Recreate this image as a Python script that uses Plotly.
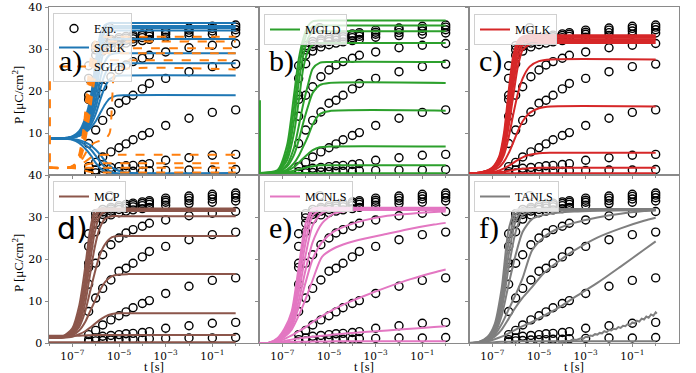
import plotly.graph_objects as go
from plotly.subplots import make_subplots

# ---------------- experimental data (same in every panel) ----------------
T_EXP = [5e-7, 1e-6, 2e-6, 4.5e-6, 1e-5, 2e-5, 4e-5, 1e-4, 2e-4, 1e-3, 1e-2, 1e-1, 1.0]
EXP_1 = [26.0, 30.8, 31.8, 32.3, 32.7, 33.0, 33.3, 33.6, 33.9, 34.5, 35.0, 35.4, 35.7]
EXP_2 = [23.0, 29.8, 31.2, 31.9, 32.3, 32.6, 32.9, 33.2, 33.5, 34.0, 34.5, 34.9, 35.2]
EXP_3 = [19.0, 28.5, 30.6, 31.4, 31.8, 32.1, 32.4, 32.7, 33.0, 33.5, 33.9, 34.3, 34.6]
EXP_4 = [18.0, 26.5, 29.5, 30.5, 31.0, 31.4, 31.7, 32.0, 32.3, 32.8, 33.2, 33.5, 33.8]
EXP_5 = [14.0, 19.0, 21.0, 23.4, 25.0, 26.2, 27.0, 27.8, 28.5, 29.3, 30.3, 30.9, 31.3]
EXP_6 = [7.5, 10.7, 13.0, 15.0, 17.1, 17.8, 19.0, 20.5, 21.8, 23.0, 24.6, 25.8, 26.4]
EXP_7 = [2.0, 3.0, 4.3, 5.5, 6.5, 7.4, 8.4, 9.4, 10.1, 11.8, 13.5, 14.9, 15.5]
EXP_8 = [0.8, 1.2, 1.6, 1.8, 2.0, 2.2, 2.3, 2.5, 2.7, 3.5, 4.1, 4.7, 4.9]
EXP_9 = [0.3, 0.5, 0.6, 0.7, 0.8, 0.8, 0.9, 0.9, 1.0, 1.1, 1.2, 1.2, 1.3]
EXP_CURVES = [EXP_1, EXP_2, EXP_3, EXP_4, EXP_5, EXP_6, EXP_7, EXP_8, EXP_9]
EXP_OUT_T = [4e-6]
EXP_OUT_P = [35.1]

# ---------------- model curves (log10 t knots, P values) ----------------
LT_SGLK = [-8, -7.5, -7.0, -6.7, -6.45, -6.2, -6.0, -5.8, -5.6, -5.4, -5.1, -4.7, 0]
SGLK = [
    [8.7, 8.7, 9.2, 10.5, 13.5, 19, 27, 33.5, 35.7, 36.2, 36.2, 36.2, 36.2],
    [8.7, 8.7, 9.1, 10.2, 12.8, 17.5, 25, 32, 34.8, 35.4, 35.5, 35.5, 35.5],
    [8.7, 8.7, 9.1, 10.0, 12.3, 16.5, 23, 30.5, 34.0, 34.9, 35.0, 35.0, 35.0],
    [8.7, 8.7, 9.0, 9.8, 11.8, 15.5, 21.5, 28.5, 32.8, 34.1, 34.4, 34.4, 34.4],
    [8.7, 8.7, 9.0, 9.7, 11.4, 14.5, 19.5, 26, 30.5, 32.0, 32.4, 32.4, 32.4],
    [8.7, 8.7, 9.0, 9.6, 11.0, 13.5, 17.5, 23, 27, 28.6, 29.0, 29.0, 29.0],
    [8.7, 8.7, 8.9, 9.5, 10.7, 12.8, 16, 20.5, 24, 25.9, 26.5, 26.6, 26.6],
    [8.7, 8.7, 8.9, 9.4, 10.4, 12, 14.5, 18, 21, 22.8, 23.6, 23.7, 23.7],
    [8.7, 8.7, 8.9, 9.3, 10.1, 11.3, 12.8, 14.8, 16.8, 18.2, 18.9, 19.0, 19.0],
    [8.7, 8.7, 8.5, 8.0, 7.2, 6.0, 4.6, 3.1, 1.8, 0.9, 0.4, 0.3, 0.3],
    [8.7, 8.7, 8.4, 7.6, 6.3, 4.6, 2.9, 1.6, 0.8, 0.4, 0.3, 0.3, 0.3],
    [8.7, 8.7, 8.6, 8.3, 7.8, 7.0, 6.0, 4.8, 3.4, 2.2, 1.2, 0.6, 0.5],
]

LT_SGLD = [-8, -7.2, -6.9, -6.7, -6.5, -6.3, -6.1, -5.9, -5.6, -5.4, -5.3, -5.2, -5.0, 0]
SGLD = [
    [1.7, 1.7, 2.5, 5, 12, 24, 31, 32.7, 32.9, 32.9, 32.9, 32.9, 32.9, 32.9],
    [1.7, 1.7, 2.4, 4.5, 10.5, 21, 29, 31.5, 31.8, 31.8, 31.8, 31.8, 31.8, 31.8],
    [1.7, 1.7, 2.3, 4, 9, 18, 26.5, 29.6, 30.2, 30.2, 30.2, 30.2, 30.2, 30.2],
    [1.7, 1.7, 2.2, 3.6, 8, 15.5, 24, 28.3, 29, 29, 29, 29, 29, 29],
    [1.7, 1.7, 2.1, 3.2, 6.8, 13, 21, 26, 27.2, 27.3, 27.3, 27.3, 27.3, 27.3],
    [1.7, 1.7, 2.0, 2.8, 4.5, 6.5, 7.5, 8.0, 8.5, 10, 17, 24, 25.1, 25.1],
    [1.7, 1.7, 1.9, 2.3, 3.0, 3.8, 4.4, 4.7, 4.8, 4.8, 4.8, 4.8, 4.8, 4.8],
    [1.7, 1.7, 1.8, 2.0, 2.3, 2.6, 2.8, 2.8, 2.8, 2.8, 2.8, 2.8, 2.8, 2.8],
    [1.7, 1.7, 1.7, 1.7, 1.7, 1.7, 1.7, 1.7, 1.7, 1.7, 1.7, 1.7, 1.7, 1.7],
    [1.7, 1.7, 1.6, 1.4, 1.1, 0.8, 0.6, 0.6, 0.6, 0.6, 0.6, 0.6, 0.6, 0.6],
]
SGLD_SPIKE_LT = [-7.96, -7.96]
SGLD_SPIKE_P = [22.3, 1.7]

LT_MGLD = [-8, -7.2, -6.8, -6.5, -6.3, -6.1, -5.9, -5.7, -5.4, -5.0, 0]
MGLD = [
    [0.5, 1.2, 7, 19, 27.5, 32.5, 35.5, 36.6, 36.8, 36.8, 36.8],
    [0.5, 1.0, 5.5, 16, 25, 31, 34.3, 35.4, 35.6, 35.6, 35.6],
    [0.5, 0.9, 4.5, 13, 22, 28.5, 32.5, 34, 34.2, 34.2, 34.2],
    [0.5, 0.8, 3.5, 10, 17.5, 25.5, 29.5, 31, 31.4, 31.4, 31.4],
    [0.5, 0.7, 2.5, 6.5, 11.5, 17, 21.5, 25.3, 26.7, 26.9, 26.9],
    [0.5, 0.7, 2.0, 4.8, 8.2, 12.5, 16.3, 19.5, 21.4, 21.9, 21.9],
    [0.5, 0.6, 1.3, 2.8, 4.5, 6.8, 9.2, 12.0, 14.5, 15.2, 15.3],
    [0.5, 0.6, 1.0, 1.9, 2.9, 4.0, 5.0, 5.9, 6.6, 6.8, 6.8],
    [0.5, 0.5, 0.7, 1.0, 1.3, 1.6, 1.9, 2.1, 2.3, 2.3, 2.3],
    [0.5, 0.5, 0.5, 0.5, 0.5, 0.5, 0.45, 0.4, 0.4, 0.4, 0.4],
]
MGLD_SPIKE_LT = [-7.96, -7.96]
MGLD_SPIKE_P = [17.8, 0.5]

LT_MGLK = [-8, -7.5, -7.0, -6.7, -6.5, -6.3, -6.1, -5.9, -5.7, -5.4, -5.0, -4.5, 0]
MGLK = [
    [0.4, 0.6, 1.8, 4.5, 10, 20, 28.5, 32, 33, 33.3, 33.3, 33.3, 33.3],
    [0.4, 0.6, 1.7, 4.2, 9, 18, 27, 31.5, 32.7, 33, 33, 33, 33],
    [0.4, 0.6, 1.6, 3.9, 8.2, 16.5, 25.5, 30.8, 32.3, 32.7, 32.7, 32.7, 32.7],
    [0.4, 0.6, 1.5, 3.6, 7.4, 15, 23.5, 29.5, 31.7, 32.2, 32.3, 32.3, 32.3],
    [0.4, 0.6, 1.4, 3.3, 6.6, 13.5, 21.5, 28, 30.9, 31.8, 31.9, 31.9, 31.9],
    [0.4, 0.5, 1.3, 3.0, 5.8, 11.5, 19, 26, 29.8, 31.1, 31.4, 31.4, 31.4],
    [0.4, 0.5, 1.2, 2.6, 4.8, 9, 14.5, 19.5, 23, 25.8, 27.1, 27.5, 27.5],
    [0.4, 0.5, 1.0, 1.9, 3.2, 5.2, 7.8, 10.5, 12.8, 14.8, 15.9, 16.3, 16.3],
    [0.4, 0.4, 0.7, 1.1, 1.6, 2.2, 2.9, 3.6, 4.2, 4.8, 5.2, 5.3, 5.3],
    [0.4, 0.4, 0.5, 0.7, 0.8, 1.0, 1.2, 1.4, 1.5, 1.6, 1.7, 1.7, 1.7],
    [0.4, 0.4, 0.4, 0.4, 0.4, 0.4, 0.4, 0.4, 0.4, 0.4, 0.4, 0.4, 0.4],
]

LT_MCP = [-8, -7.4, -7.0, -6.7, -6.45, -6.25, -6.05, -5.85, -5.6, -5.3, -5.0, -4.6, 0]
MCP = [
    [1.3, 1.6, 3.5, 9, 18, 26.5, 31.3, 32, 32, 32, 32, 32, 32],
    [1.3, 1.5, 3.0, 7.5, 15.5, 24, 30, 31.7, 31.8, 31.8, 31.8, 31.8, 31.8],
    [1.3, 1.5, 2.7, 6.5, 13.5, 21.5, 28.3, 31.2, 31.6, 31.6, 31.6, 31.6, 31.6],
    [1.3, 1.4, 2.4, 5.5, 11.5, 19, 26, 30, 31.3, 31.4, 31.4, 31.4, 31.4],
    [1.3, 1.4, 2.2, 4.6, 9.5, 16, 22.5, 27, 29.6, 30.2, 30.2, 30.2, 30.2],
    [1.3, 1.3, 2.0, 3.9, 7.5, 12, 16.5, 20.5, 23.5, 25.2, 25.5, 25.5, 25.5],
    [1.3, 1.3, 1.8, 3.0, 5.0, 7.4, 9.8, 12.2, 14.5, 15.9, 16.3, 16.4, 16.4],
    [1.3, 1.3, 1.5, 2.1, 2.8, 3.6, 4.5, 5.4, 6.3, 6.9, 7.1, 7.1, 7.1],
    [1.7, 1.7, 1.7, 1.75, 1.8, 1.85, 1.9, 1.9, 1.9, 1.9, 1.9, 1.9, 1.9],
    [0.2, 0.2, 0.2, 0.2, 0.2, 0.2, 0.2, 0.2, 0.2, 0.2, 0.2, 0.2, 0.2],
]

LT_MCNLS = [-8, -7.6, -7.2, -6.9, -6.6, -6.3, -6.0, -5.7, -5.3, -4.8, -4.2, -3.5, -2.5, -1.5, -0.5, 0]
MCNLS = [
    [0, 0, 1.2, 3.5, 7.5, 18, 28.5, 32.0, 32.2, 32.2, 32.2, 32.2, 32.2, 32.2, 32.2, 32.2],
    [0, 0, 1.0, 3.0, 6.5, 16, 26.5, 31.5, 32.0, 32.0, 32.0, 32.0, 32.0, 32.0, 32.0, 32.0],
    [0, 0, 0.9, 2.6, 5.6, 14, 24, 30.3, 31.8, 31.8, 31.8, 31.8, 31.8, 31.8, 31.8, 31.8],
    [0, 0, 0.8, 2.3, 4.9, 12, 21, 28, 31.0, 31.6, 31.7, 31.7, 31.7, 31.7, 31.7, 31.7],
    [0, 0, 0.7, 2.0, 4.3, 10, 17.5, 24, 28.5, 30.8, 31.5, 31.7, 31.7, 31.7, 31.7, 31.7],
    [0, 0, 0.6, 1.8, 3.8, 8.5, 14.5, 20, 24, 26.5, 28, 29.2, 30.3, 30.8, 31.2, 31.3],
    [0, 0, 0.5, 1.5, 3.2, 6.5, 10.5, 15, 20.5, 22.5, 23.8, 24.8, 26.0, 27.2, 28.2, 28.6],
    [0, 0, 0.4, 1.0, 1.8, 2.8, 3.8, 5.0, 6.4, 8.0, 9.6, 11.2, 13.3, 15.2, 16.8, 17.5],
    [0, 0, 0.2, 0.5, 0.8, 1.1, 1.3, 1.5, 1.7, 2.0, 2.3, 2.6, 3.0, 3.4, 3.8, 4.0],
    [0, 0, 0.1, 0.2, 0.25, 0.3, 0.3, 0.35, 0.35, 0.4, 0.4, 0.4, 0.4, 0.4, 0.4, 0.4],
]

LT_TANLS = [-8, -7.6, -7.2, -6.9, -6.6, -6.3, -6.0, -5.7, -5.3, -4.8, -4.2, -3.5, -2.5, -1.5, -0.5, 0]
TANLS = [
    [0, 0.2, 1.5, 4.5, 13, 27, 31.6, 31.9, 31.9, 31.9, 31.9, 31.9, 31.9, 31.9, 31.9, 31.9],
    [0, 0.2, 1.3, 3.8, 11, 24, 30.5, 31.8, 31.8, 31.8, 31.8, 31.8, 31.8, 31.8, 31.8, 31.8],
    [0, 0.1, 1.1, 3.2, 9.5, 21, 29, 31.5, 31.7, 31.7, 31.7, 31.7, 31.7, 31.7, 31.7, 31.7],
    [0, 0.1, 1.0, 2.8, 8, 18, 26.5, 30.5, 31.4, 31.6, 31.6, 31.6, 31.6, 31.6, 31.6, 31.6],
    [0, 0.1, 0.8, 2.3, 6.5, 14, 21, 26.5, 29.5, 30.5, 31, 31.3, 31.5, 31.6, 31.6, 31.6],
    [0, 0.1, 0.7, 1.9, 4.5, 8, 11.5, 15.5, 22, 25.2, 27.2, 28.6, 29.9, 30.8, 31.4, 31.6],
    [0, 0.1, 0.6, 1.5, 3.2, 5.8, 8.5, 10.8, 13.3, 16.6, 19.3, 22, 25.1, 27.3, 29.1, 29.8],
    [0, 0.1, 0.4, 0.9, 1.5, 2.3, 3.2, 4.0, 5.0, 6.5, 8.3, 10.8, 14.3, 18.2, 22.2, 24.2],
    [0, 0, 0.1, 0.2, 0.3, 0.3, 0.4, 0.4, 0.4, 0.4, 0.4, 0.4, 0.4, 0.4, 0.4, 0.4],
]
TANLS_NOISY_LT = [-4.2, -4.1, -4.0, -3.9, -3.8, -3.7, -3.6, -3.5, -3.4, -3.3, -3.2, -3.1,
                  -3.0, -2.9, -2.8, -2.7, -2.6, -2.5, -2.4, -2.3, -2.2, -2.1, -2.0, -1.9,
                  -1.8, -1.7, -1.6, -1.5, -1.4, -1.3, -1.2, -1.1, -1.0, -0.9, -0.8, -0.7,
                  -0.6, -0.5, -0.4, -0.3, -0.2, -0.1, 0.0, 0.05]
TANLS_NOISY_P = [0.3, 0.2, 0.4, 0.3, 0.5, 0.4, 0.7, 0.8, 0.7, 1.0, 1.1, 1.0,
                 1.5, 1.4, 1.8, 1.7, 2.1, 2.0, 2.4, 2.3, 2.8, 2.6, 3.1, 3.0,
                 3.4, 3.3, 3.8, 3.6, 4.1, 4.0, 4.5, 4.3, 4.9, 4.7, 5.3, 5.1,
                 5.8, 5.6, 6.3, 6.0, 6.8, 6.5, 7.3, 7.0]

X_TICKS = [1e-7, 1e-5, 1e-3, 1e-1]
X_TICK_TEXT = ["10<sup>−7</sup>", "10<sup>−5</sup>", "10<sup>−3</sup>", "10<sup>−1</sup>"]
Y_TICKS = [0, 10, 20, 30, 40]

BLUE, ORANGE, GREEN, RED = "#1f77b4", "#ff7f0e", "#2ca02c", "#d62728"
BROWN, PINK, GRAY = "#8c564b", "#e377c2", "#7f7f7f"

fig = make_subplots(rows=2, cols=3, horizontal_spacing=0, vertical_spacing=0)

LEG = {(1, 1): "legend", (1, 2): "legend2", (1, 3): "legend3",
       (2, 1): "legend4", (2, 2): "legend5", (2, 3): "legend6"}


def add_exp(row, col, show):
    xs, ys = [], []
    for c in EXP_CURVES:
        xs += T_EXP
        ys += c
    xs += EXP_OUT_T
    ys += EXP_OUT_P
    fig.add_trace(go.Scatter(
        x=xs, y=ys, mode="markers", name="Exp.", showlegend=show,
        legend=LEG[(row, col)],
        marker=dict(symbol="circle-open", size=8, color="black", line=dict(width=1.4, color="black"))),
        row=row, col=col)


def add_model(lts, curves, row, col, color, name, dash="solid", smooth=0.7):
    xs = [10 ** v for v in lts]
    for i, c in enumerate(curves):
        fig.add_trace(go.Scatter(
            x=xs, y=c, mode="lines", name=name, showlegend=(i == 0),
            legend=LEG[(row, col)],
            line=dict(color=color, width=2, dash=dash, shape="spline", smoothing=smooth)),
            row=row, col=col)


def add_extra(lts, ps, row, col, color, dash="solid"):
    fig.add_trace(go.Scatter(
        x=[10 ** v for v in lts], y=ps, mode="lines", showlegend=False,
        legend=LEG[(row, col)],
        line=dict(color=color, width=2, dash=dash)), row=row, col=col)


for (r, c) in LEG:
    add_exp(r, c, (r, c) == (1, 1))

add_model(LT_SGLK, SGLK, 1, 1, BLUE, "SGLK")
add_model(LT_SGLD, SGLD, 1, 1, ORANGE, "SGLD", dash="dash")
add_extra(SGLD_SPIKE_LT, SGLD_SPIKE_P, 1, 1, ORANGE, dash="dash")
add_model(LT_MGLD, MGLD, 1, 2, GREEN, "MGLD")
add_extra(MGLD_SPIKE_LT, MGLD_SPIKE_P, 1, 2, GREEN)
add_model(LT_MGLK, MGLK, 1, 3, RED, "MGLK")
add_model(LT_MCP, MCP, 2, 1, BROWN, "MCP")
add_model(LT_MCNLS, MCNLS, 2, 2, PINK, "MCNLS")
add_model(LT_TANLS, TANLS, 2, 3, GRAY, "TANLS")
add_extra(TANLS_NOISY_LT, TANLS_NOISY_P, 2, 3, GRAY)

FRAME = "#8a8a8a"
TICKFONT = dict(family="DejaVu Serif", size=11, color="black")

for r in (1, 2):
    for c in (1, 2, 3):
        fig.update_xaxes(
            type="log", range=[-8, 1], tickvals=X_TICKS, ticktext=X_TICK_TEXT,
            showticklabels=(r == 2), ticks="outside", ticklen=3, tickwidth=1,
            tickcolor=FRAME, showline=True, linecolor=FRAME, linewidth=1, mirror=True,
            showgrid=False, zeroline=False, tickfont=dict(family="DejaVu Serif", size=10.5, color="black"),
            automargin=False,
            minor=dict(tickvals=[1e-8, 1e-6, 1e-4, 1e-2, 1], ticks="outside", ticklen=2,
                       tickcolor=FRAME, showgrid=False),
            row=r, col=c)
        fig.update_yaxes(
            range=[0, 40], tickvals=Y_TICKS,
            ticktext=(["", "10", "20", "30", "40"] if r == 1 else ["0", "10", "20", "30", "40"]),
            showticklabels=(c == 1), ticks="outside", ticklen=3.5, tickwidth=1,
            tickcolor=FRAME, showline=True, linecolor=FRAME, linewidth=1, mirror=True,
            showgrid=False, zeroline=False, tickfont=TICKFONT, automargin=False,
            row=r, col=c)

L, T, PW, PH = 49, 7, 630, 336


def px(xp):
    return (xp - L) / PW


def py(yp):
    return 1 - (yp - T) / PH


leg_style = dict(bgcolor="rgba(255,255,255,0.8)", bordercolor="#d0d0d0", borderwidth=1,
                 font=dict(family="Liberation Serif", size=12, color="black"),
                 xanchor="left", yanchor="top", itemwidth=30, tracegroupgap=0,
                 traceorder="normal")
legend_pos = {"legend": (53, 13), "legend2": (264, 14), "legend3": (474, 14),
              "legend4": (53, 181), "legend5": (264, 181), "legend6": (474, 181)}
legends = {}
for k, (xp, yp) in legend_pos.items():
    legends[k] = dict(x=px(xp), y=py(yp), **leg_style)

annotations = []
panel_labels = [("a)", 57, 61, "Liberation Serif"), ("b)", 267, 61, "Liberation Serif"),
                ("c)", 477, 61, "Liberation Serif"), ("d)", 55, 228, "DejaVu Sans"),
                ("e)", 267, 228, "Liberation Serif"), ("f)", 477, 228, "Liberation Serif")]
for txt, xp, yp, fam in panel_labels:
    annotations.append(dict(text=txt, x=px(xp), y=py(yp), xref="paper", yref="paper",
                            xanchor="left", yanchor="middle", showarrow=False,
                            font=dict(family=fam, size=30, color="black")))
for yp in (95, 263):
    annotations.append(dict(text="P [μC/cm<sup>2</sup>]", x=px(18), y=py(yp), xref="paper",
                            yref="paper", xanchor="center", yanchor="middle", textangle=-90,
                            showarrow=False,
                            font=dict(family="Liberation Serif", size=13, color="black")))
for xp in (154, 364, 574):
    annotations.append(dict(text="t [s]", x=px(xp), y=py(367), xref="paper", yref="paper",
                            xanchor="center", yanchor="middle", showarrow=False,
                            font=dict(family="Liberation Serif", size=12.5, color="black")))

fig.update_layout(
    width=696, height=373, margin=dict(l=L, r=17, t=T, b=30, autoexpand=False),
    paper_bgcolor="white", plot_bgcolor="white",
    annotations=annotations, hovermode=False, **legends)

fig.write_html("out.html", config={"displayModeBar": False, "staticPlot": True},
               post_script="document.body.style.margin='0';document.body.style.overflow='hidden';")
